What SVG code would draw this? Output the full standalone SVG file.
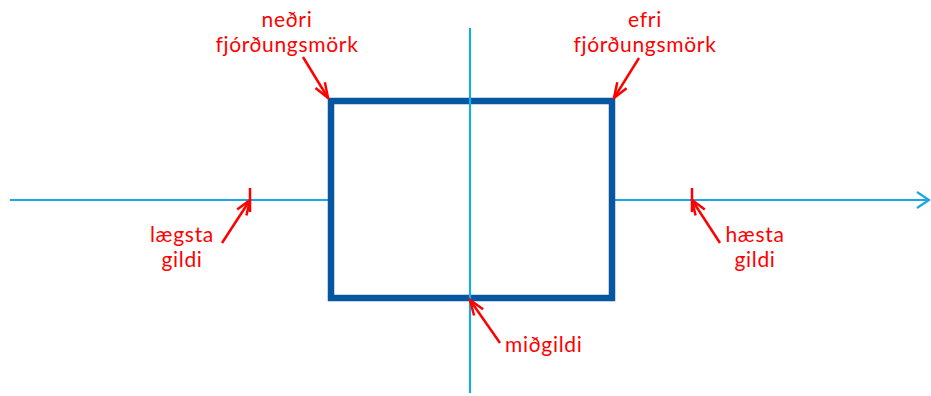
<svg xmlns="http://www.w3.org/2000/svg" width="931" height="396" viewBox="0 0 931 396">
  <style>
    .axis { stroke: #1aa8e6; stroke-width: 2.2; fill: none; }
    .box { stroke: #0757a0; stroke-width: 6.5; fill: #ffffff; }
    .tick { stroke: #ff0000; stroke-width: 2.5; }
    .ptr { stroke: #ff0000; stroke-width: 2.5; fill: none; marker-end: url(#redHead); }
    text { font-family: Lato, "Open Sans", "Liberation Sans", sans-serif; font-size: 21px; letter-spacing: 0.7px; fill: #ff0000; text-anchor: middle; }
  </style>
  <defs>
    <marker id="redHead" viewBox="0 0 18 16" refX="16" refY="8" markerWidth="18" markerHeight="16" markerUnits="userSpaceOnUse" orient="auto">
      <path d="M1,2.5 L16,8 L1,13.5" fill="none" stroke="#ff0000" stroke-width="2.5"/>
    </marker>
    <marker id="axisHead" viewBox="0 0 16 20" refX="14" refY="10" markerWidth="16" markerHeight="20" markerUnits="userSpaceOnUse" orient="auto">
      <path d="M2,2 L14,10 L2,18" fill="none" stroke="#1aa8e6" stroke-width="2.2"/>
    </marker>
  </defs>

  <!-- value axis, box plot and median line -->
  <g id="axis">
    <line class="axis" x1="10" y1="200" x2="929" y2="200" marker-end="url(#axisHead)"/>
  </g>
  <g id="box">
    <rect class="box" x="331" y="101" width="281" height="197"/>
  </g>
  <g id="median-line">
    <line class="axis" x1="470" y1="28" x2="470" y2="393"/>
  </g>
  <g id="min-tick"><line class="tick" x1="250" y1="188" x2="250" y2="212"/></g>
  <g id="max-tick"><line class="tick" x1="692" y1="188" x2="692" y2="212"/></g>

  <!-- label pointers -->
  <g id="connectors">
    <line class="ptr" x1="303" y1="57" x2="328" y2="98"/>
    <line class="ptr" x1="639" y1="58" x2="614" y2="98"/>
    <line class="ptr" x1="222" y1="243" x2="250" y2="200"/>
    <line class="ptr" x1="720" y1="243" x2="692" y2="200"/>
    <line class="ptr" x1="500" y1="343" x2="470" y2="300"/>
  </g>

  <!-- labels -->
  <g id="lower-quartile">
    <text x="287" y="27">neðri</text>
    <text x="287" y="52">fjórðungsmörk</text>
  </g>
  <g id="upper-quartile">
    <text x="645" y="27">efri</text>
    <text x="645" y="52">fjórðungsmörk</text>
  </g>
  <g id="minimum">
    <text x="182" y="242">lægsta</text>
    <text x="182" y="267">gildi</text>
  </g>
  <g id="maximum">
    <text x="755" y="242">hæsta</text>
    <text x="755" y="267">gildi</text>
  </g>
  <g id="median">
    <text x="505" y="352" style="text-anchor: start">miðgildi</text>
  </g>
</svg>
